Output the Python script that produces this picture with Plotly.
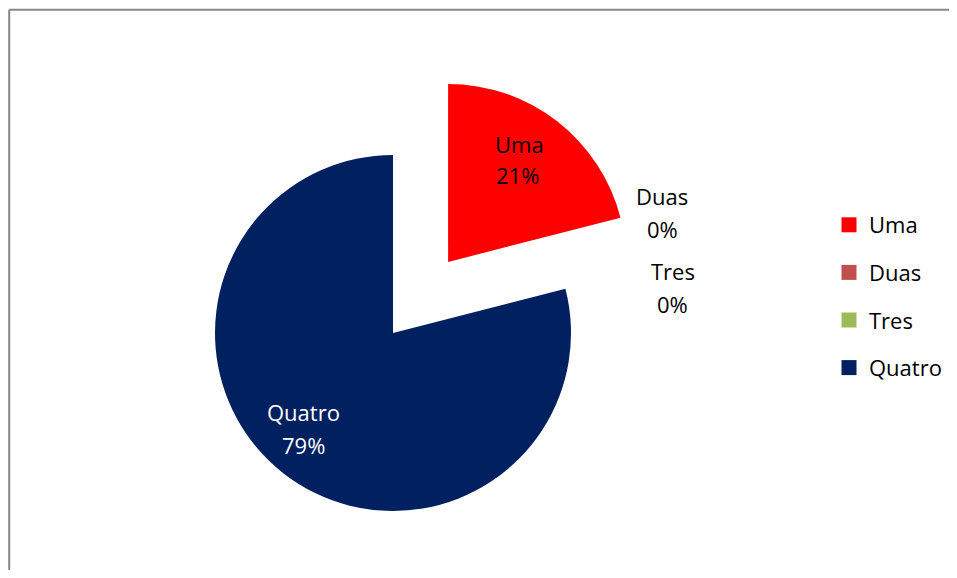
import math
import plotly.graph_objects as go

# ---- data ----
labels = ["Uma", "Duas", "Tres", "Quatro"]
values = [21, 0, 0, 79]
colors = ["#FF0000", "#C0504D", "#9BBB59", "#002060"]
label_font_colors = ["black", "black", "black", "white"]

# ---- layout constants (pixels, in window coordinates) ----
OFF = 8                              # default page body margin
W, H = 957 - 2 * OFF, 578 - 2 * OFF  # figure size (no scrollbars)
CX, CY, R = 393, 333, 178
PULL = 0.505
FONT = "Open Sans"
FS = 22
label_name_pos = [(519, 144), (662, 196), (673, 271), (303, 412)]
label_pct_pos = [(518, 175), (662, 229), (672, 304), (303, 445)]

total = sum(values)
TRANSP = "rgba(0,0,0,0)"


def px(x):
    return (x - OFF) / W


def py(y):
    return 1 - (y - OFF) / H


def dom(cx, cy):
    return dict(x=[px(cx - R), px(cx + R)], y=[py(cy + R), py(cy - R)])


# exploded slice offset, along bisector of first slice (clockwise from 12 o'clock)
ang = 2 * math.pi * (values[0] / 2) / total
dx = PULL * R * math.sin(ang)
dy = -PULL * R * math.cos(ang)

fig = go.Figure()

fig.add_trace(go.Pie(
    labels=labels, values=values, sort=False, direction="clockwise", rotation=0,
    marker=dict(colors=[TRANSP] + colors[1:], line=dict(width=0)),
    textinfo="none", hoverinfo="label+percent", showlegend=False,
    domain=dom(CX, CY),
))
fig.add_trace(go.Pie(
    labels=labels, values=values, sort=False, direction="clockwise", rotation=0,
    marker=dict(colors=[colors[0]] + [TRANSP] * 3, line=dict(width=0)),
    textinfo="none", hoverinfo="label+percent", showlegend=False,
    domain=dom(CX + dx, CY + dy),
))

for lab, col in zip(labels, colors):
    fig.add_trace(go.Scatter(
        x=[None], y=[None], mode="markers", name=lab, legendgroup=lab,
        marker=dict(symbol="square", size=15, color=col, line=dict(width=0)),
        showlegend=True,
    ))

annotations = []
for i, (lab, v) in enumerate(zip(labels, values)):
    pct = f"{round(v / total * 100)}%"
    for txt, (x, y) in ((lab, label_name_pos[i]), (pct, label_pct_pos[i])):
        annotations.append(dict(
            x=px(x), y=py(y), xref="paper", yref="paper", text=txt,
            showarrow=False, xanchor="center", yanchor="middle",
            font=dict(family=FONT, size=FS, color=label_font_colors[i]),
        ))

fig.update_layout(
    width=W, height=H,
    margin=dict(l=0, r=0, t=0, b=0),
    paper_bgcolor="white", plot_bgcolor="white",
    xaxis=dict(visible=False), yaxis=dict(visible=False),
    font=dict(family=FONT, size=FS, color="black"),
    legend=dict(
        x=px(829), y=py(204), xanchor="left", yanchor="top",
        font=dict(family=FONT, size=FS, color="black"),
        tracegroupgap=16, bgcolor="rgba(0,0,0,0)",
    ),
    annotations=annotations,
    shapes=[
        dict(type="line", xref="paper", yref="paper", x0=px(9.2), x1=px(9.2), y0=-0.05, y1=py(9.8),
             line=dict(color="#888888", width=2)),
        dict(type="line", xref="paper", yref="paper", x0=px(9.2), x1=1.05, y0=py(9.8), y1=py(9.8),
             line=dict(color="#888888", width=2)),
    ],
)

fig.write_html("out.html")
